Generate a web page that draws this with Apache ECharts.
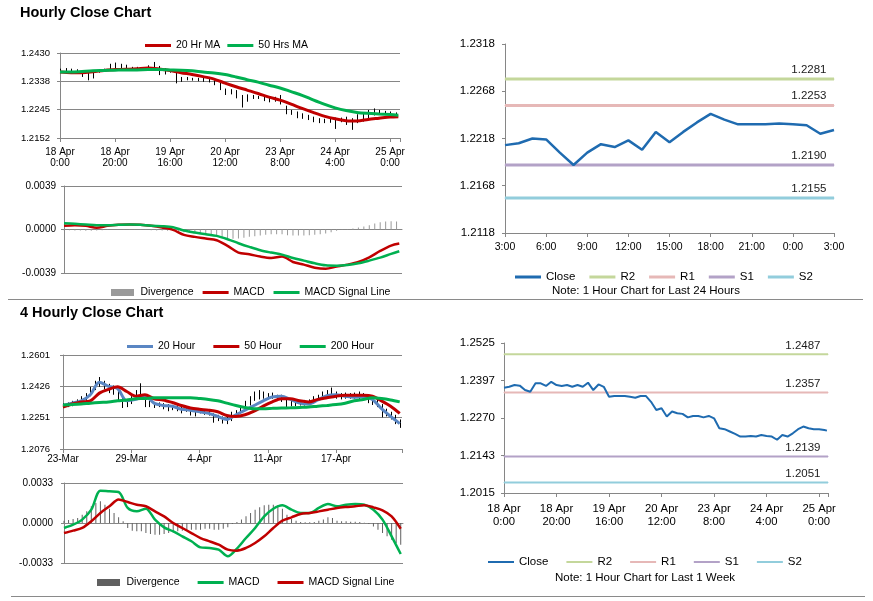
<!DOCTYPE html>
<html><head><meta charset="utf-8">
<script src="https://cdn.jsdelivr.net/npm/echarts@6/dist/echarts.min.js"></script>
<style>
html,body{margin:0;padding:0;background:#fff;width:873px;height:601px;overflow:hidden;}
.p{position:absolute;}
.sep{position:absolute;height:0;border-top:1px solid #8a8a8a;z-index:5;}
</style></head><body>
<div id="c1" class="p" style="left:0;top:0;width:430px;height:175px"></div>
<div id="c2" class="p" style="left:0;top:175px;width:430px;height:125px"></div>
<div id="c3" class="p" style="left:430px;top:0;width:443px;height:300px"></div>
<div id="c4" class="p" style="left:0;top:300px;width:430px;height:165px"></div>
<div id="c5" class="p" style="left:0;top:465px;width:430px;height:136px"></div>
<div id="c6" class="p" style="left:430px;top:300px;width:443px;height:301px"></div>
<div class="sep" style="left:8px;top:299px;width:855px"></div>
<div class="sep" style="left:11px;top:596px;width:854px"></div>
<script>
// ---------- Panel 1: Hourly close (last week) ----------
const hrTicks = ['18 Apr\n0:00','18 Apr\n20:00','19 Apr\n16:00','20 Apr\n12:00','23 Apr\n8:00','24 Apr\n4:00','25 Apr\n0:00'];
const barHours = [0,2,4,6,8,10,12,14,16,18,20,22,24,26,28,30,32,34,36,38,40,42,44,46,48,50,52,54,56,58,60,62,64,66,68,70,72,74,76,78,80,82,84,86,88,90,92,94,96,98,100,102,104,106,108,110,112,114,116,118,120,122];
const hrHigh = [1.2379,1.2381,1.2379,1.2377,1.2371,1.2366,1.2368,1.2377,1.2379,1.2395,
  1.2399,1.2395,1.2392,1.2385,1.2385,1.2381,1.2390,1.2401,1.2388,1.2381,
  1.2377,1.2368,1.2352,1.2352,1.2349,1.2349,1.2349,1.2352,1.2341,1.2336,
  1.2314,1.2312,1.2309,1.2293,1.2295,1.2293,1.2290,1.2287,1.2284,1.2287,
  1.2293,1.2258,1.2244,1.2239,1.2233,1.2228,1.2222,1.2217,1.2215,1.2217,
  1.2219,1.2219,1.2222,1.2217,1.2230,1.2233,1.2244,1.2249,1.2244,1.2241,
  1.2239,1.2236];
const hrLow = [1.2368,1.2371,1.2368,1.2366,1.2352,1.2341,1.2347,1.2366,1.2371,1.2377,
  1.2379,1.2381,1.2379,1.2374,1.2377,1.2373,1.2377,1.2379,1.2358,1.2360,
  1.2366,1.2331,1.2336,1.2341,1.2340,1.2338,1.2336,1.2334,1.2325,1.2309,
  1.2293,1.2295,1.2282,1.2252,1.2271,1.2280,1.2280,1.2273,1.2269,1.2271,
  1.2262,1.2230,1.2228,1.2217,1.2215,1.2211,1.2204,1.2201,1.2201,1.2202,
  1.2182,1.2204,1.2195,1.2179,1.2201,1.2206,1.2215,1.2226,1.2230,1.2230,
  1.2226,1.2222];
const maHours = [0,4,8,12,16,20,24,28,32,36,40,44,48,52,56,60,64,68,72,76,80,84,88,92,96,100,104,108,112,116,120,123];
const ma20h = [1.2368,1.2366,1.2366,1.2369,1.2373,1.2376,1.2377,1.2379,1.2381,1.2378,1.2373,1.2366,1.2360,1.2353,1.2345,1.2332,1.2320,1.2309,1.2298,1.2286,1.2276,1.2263,1.2249,1.2236,1.2224,1.2215,1.2209,1.2208,1.2213,1.2217,1.2221,1.2222];
const ma50h = [1.2368,1.2368,1.2370,1.2372,1.2373,1.2374,1.2375,1.2375,1.2376,1.2376,1.2375,1.2374,1.2372,1.2368,1.2365,1.2360,1.2352,1.2343,1.2335,1.2325,1.2316,1.2304,1.2292,1.2277,1.2263,1.2251,1.2242,1.2236,1.2233,1.2231,1.2229,1.2227];
// ---------- Panel 2: Hourly MACD ----------
const divH = [-0.00006,-0.00006,-0.00009,-0.00009,-0.00012,-0.00012,-0.00009,-0.00006,-0.00003,0,
  0,-0.00003,-0.00003,-0.00003,-0.00003,-0.00003,-0.00006,-0.00009,-0.00009,-0.00012,
  -0.00012,-0.00018,-0.00024,-0.0003,-0.00036,-0.00042,-0.00048,-0.00054,-0.00066,-0.00078,
  -0.00084,-0.00084,-0.00081,-0.00075,-0.00066,-0.0006,-0.00054,-0.00048,-0.00042,-0.00042,
  -0.00042,-0.00051,-0.00054,-0.00054,-0.00054,-0.00051,-0.00048,-0.00042,-0.00036,-0.00024,
  -0.00012,-0.00003,0.00003,0.00009,0.00018,0.00027,0.00039,0.00054,0.00066,0.00072,
  0.00075,0.00072];
const macdH = [0.00033,0.00039,0.00033,0.00015,0.00033,0.00042,0.00045,0.00042,0.00033,0.00018,-0.00003,-0.00048,-0.00066,-0.00081,-0.00096,-0.00147,-0.00207,-0.00222,-0.00243,-0.00255,-0.00243,-0.00291,-0.00315,-0.00342,-0.00351,-0.00333,-0.00315,-0.00291,-0.00249,-0.00192,-0.00144,-0.00126];
const sigH = [0.00057,0.00051,0.00045,0.00039,0.00039,0.00042,0.00045,0.00042,0.00033,0.0003,0.00021,-0.00009,-0.00027,-0.00042,-0.00057,-0.00087,-0.00123,-0.00156,-0.00186,-0.00207,-0.00225,-0.00255,-0.00279,-0.00303,-0.00321,-0.00324,-0.00318,-0.00303,-0.00279,-0.00252,-0.00219,-0.00195];
// ---------- Panel 3: last 24 hours ----------
const dayTicks = ['3:00','6:00','9:00','12:00','15:00','18:00','21:00','0:00','3:00'];
const dayHours = [0,1,2,3,4,5,6,7,8,9,10,11,12,13,14,15,16,17,18,19,20,21,22,23,24];
const dayClose = [1.2211,1.2213,1.2218,1.2217,1.2203,1.2190,1.2203,1.2212,1.2209,1.2216,1.2206,1.2225,1.2214,1.2225,1.2235,1.2244,1.2238,1.2233,1.2233,1.2233,1.2234,1.2233,1.2232,1.2223,1.2227];
const levelNames = ['R2','R1','S1','S2'];
const dayLevels = [1.2281,1.2253,1.2190,1.2155];
// ---------- Panel 4: 4-hourly close ----------
const h4Ticks = ['23-Mar','29-Mar','4-Apr','11-Apr','17-Apr'];
const bar4Idx = [0,2,4,6,8,10,12,14,16,18,20,22,24,26,28,30,32,34,36,38,40,42,44,46,48,50,52,54,56,58,60,62,64,66,68,70,72,74,76,78,80,82,84,86,88,90,92,94,96,98,100,102,104,106,108,110,112,114,116,118,120,122,124,126,128,130,132,134,136,138,140,142,144,146,148];
const h4High = [1.2332,1.2336,1.2345,1.2353,1.2371,1.2388,1.2423,1.2457,1.2478,1.2457,
  1.2440,1.2431,1.2414,1.2371,1.2353,1.2371,1.2405,1.2443,1.2371,1.2345,
  1.2339,1.2336,1.2332,1.2327,1.2322,1.2319,1.2313,1.2310,1.2301,1.2298,
  1.2298,1.2293,1.2287,1.2275,1.2267,1.2258,1.2258,1.2284,1.2293,1.2319,
  1.2345,1.2371,1.2397,1.2405,1.2397,1.2388,1.2391,1.2379,1.2379,1.2353,
  1.2345,1.2339,1.2345,1.2350,1.2353,1.2371,1.2379,1.2397,1.2405,1.2419,
  1.2397,1.2388,1.2391,1.2388,1.2391,1.2397,1.2388,1.2371,1.2362,1.2353,
  1.2327,1.2301,1.2284,1.2267,1.2241];
const h4Low = [1.2305,1.2310,1.2315,1.2322,1.2332,1.2345,1.2371,1.2405,1.2423,1.2409,
  1.2388,1.2379,1.2345,1.2305,1.2310,1.2327,1.2353,1.2371,1.2310,1.2310,
  1.2305,1.2310,1.2298,1.2287,1.2293,1.2287,1.2275,1.2284,1.2263,1.2258,
  1.2275,1.2267,1.2263,1.2223,1.2232,1.2218,1.2215,1.2232,1.2258,1.2275,
  1.2293,1.2319,1.2345,1.2353,1.2357,1.2353,1.2357,1.2345,1.2339,1.2310,
  1.2315,1.2315,1.2319,1.2319,1.2322,1.2336,1.2345,1.2353,1.2362,1.2371,
  1.2357,1.2353,1.2357,1.2357,1.2357,1.2353,1.2350,1.2332,1.2322,1.2310,
  1.2253,1.2258,1.2241,1.2215,1.2194];
const ma4Idx = [0,4,8,12,16,20,24,28,32,36,40,44,48,52,56,60,64,68,72,76,80,84,88,92,96,100,104,108,112,116,120,124,128,132,136,140,144,148];
const ma20_4 = [1.2319,1.2332,1.2345,1.2379,1.2449,1.2426,1.2414,1.2345,1.2353,1.2374,1.2332,1.2319,1.2315,1.2298,1.2293,1.2284,1.2275,1.2258,1.2241,1.2267,1.2293,1.2319,1.2345,1.2367,1.2371,1.2353,1.2332,1.2327,1.2350,1.2374,1.2379,1.2371,1.2365,1.2367,1.2353,1.2301,1.2258,1.2218];
const ma50_4 = [1.2310,1.2327,1.2339,1.2345,1.2388,1.2409,1.2423,1.2397,1.2371,1.2379,1.2357,1.2350,1.2336,1.2319,1.2305,1.2298,1.2293,1.2284,1.2263,1.2258,1.2267,1.2287,1.2315,1.2339,1.2357,1.2357,1.2345,1.2339,1.2353,1.2362,1.2371,1.2376,1.2376,1.2376,1.2371,1.2345,1.2315,1.2275];
const ma200_4 = [1.2322,1.2324,1.2327,1.2332,1.2336,1.2339,1.2345,1.2350,1.2357,1.2358,1.2362,1.2362,1.2362,1.2362,1.2362,1.2358,1.2353,1.2345,1.2332,1.2319,1.2308,1.2301,1.2301,1.2303,1.2305,1.2306,1.2308,1.2310,1.2315,1.2319,1.2324,1.2332,1.2345,1.2353,1.2362,1.2358,1.2350,1.2339];
// ---------- Panel 5: 4-hourly MACD ----------
const div4 = [0.00019,0.00025,0.00033,0.00041,0.00069,0.00096,0.00138,0.00165,0.00179,0.00151,
  0.00118,0.00083,0.00047,0.00014,-0.00041,-0.00063,-0.00069,-0.00069,-0.00083,-0.00091,
  -0.00096,-0.00096,-0.00091,-0.00083,-0.00074,-0.00069,-0.00063,-0.00055,-0.00055,-0.00055,
  -0.00055,-0.00047,-0.00047,-0.00055,-0.00055,-0.00047,-0.00036,-0.00008,0.00008,0.00028,
  0.00055,0.00083,0.0011,0.00129,0.00146,0.00151,0.00151,0.00146,0.00118,0.00069,
  0.00033,0.00019,0.00008,0.00006,0.00006,0.00008,0.00019,0.00028,0.00047,0.00041,
  0.00019,0.00014,0.00014,0.00011,0.00011,0.00008,0.00003,-0.00008,-0.00028,-0.00055,
  -0.00083,-0.0011,-0.00138,-0.00165,-0.00179];
const macd4 = [-0.00041,-0.00014,0.00028,0.0011,0.00267,0.00261,0.00256,0.00124,0.00096,0.00118,0.00028,-0.00036,-0.00069,-0.0011,-0.00151,-0.00201,-0.00206,-0.0022,-0.00275,-0.00212,-0.00124,-0.00041,0.00055,0.00118,0.00146,0.0011,0.00083,0.00083,0.00124,0.00157,0.00138,0.00151,0.00157,0.00151,0.0011,0.00028,-0.0011,-0.00256];
const sig4 = [-0.00083,-0.00063,-0.00041,0.00014,0.00083,0.00138,0.00193,0.00173,0.00151,0.00138,0.00096,0.00055,0,-0.00041,-0.00083,-0.00124,-0.00151,-0.00179,-0.0022,-0.00228,-0.00206,-0.00165,-0.0011,-0.00041,0.00019,0.00047,0.00074,0.00083,0.00096,0.0011,0.00124,0.00132,0.00138,0.00146,0.00129,0.00105,0.00055,-0.00047];
// ---------- Panel 6: last week ----------
const weekHours = [0,2,4,6,8,10,12,14,16,18,20,22,24,26,28,30,32,34,36,38,40,42,44,46,48,50,52,54,56,58,60,62,64,66,68,70,72,74,76,78,80,82,84,86,88,90,92,94,96,98,100,102,104,106,108,110,112,114,116,118,120,122,123];
const weekClose = [1.2373,1.2376,1.2382,1.2380,1.2365,1.2359,1.2388,1.2388,1.2379,1.2393,
  1.2382,1.2379,1.2382,1.2376,1.2382,1.2376,1.2390,1.2365,1.2384,1.2376,
  1.2342,1.2345,1.2345,1.2345,1.2342,1.2339,1.2345,1.2345,1.2325,1.2297,
  1.2303,1.2275,1.2292,1.2286,1.2284,1.2272,1.2277,1.2277,1.2272,1.2277,
  1.2269,1.2235,1.2232,1.2224,1.2216,1.2207,1.2207,1.2209,1.2207,1.2212,
  1.2209,1.2207,1.2196,1.2212,1.2207,1.2218,1.2232,1.2241,1.2235,1.2232,
  1.2232,1.2229,1.2227];
const weekLevels = [1.2487,1.2357,1.2139,1.2051];

// ---------- helpers ----------
const SANS = "'Liberation Sans',Arial,Helvetica,sans-serif";
const AX = '#868686';
const RED = '#c00000', GREEN = '#00b050', BLUE = '#5a86c3', CLOSE = '#1f6bb0';
const levelColors = ['#c4d79b','#e6b8b7','#b3a2c7','#92cddc'];
const lineIcon = 'path://M0,0L26,0L26,3L0,3Z';
const thinIcon = 'path://M0,0L26,0L26,2L0,2Z';
const barIcon = 'path://M0,0L23,0L23,7L0,7Z';
const pairs = (xs, ys) => xs.map((x, i) => [x, ys[i]]);
const hilo = (xs, lo, hi) => xs.map((x, i) => [x, lo[i], hi[i]]);
function hiloRender(params, api) {
  const x = api.value(0);
  const a = api.coord([x, api.value(1)]);
  const b = api.coord([x, api.value(2)]);
  const px = Math.round(a[0]) + 0.5;
  return {type: 'line', shape: {x1: px, y1: a[1], x2: px, y2: b[1]}, style: {stroke: '#000', lineWidth: 1}};
}
function hiloSeries(data) {
  return {type: 'custom', name: 'Price', renderItem: hiloRender, data, encode: {x: 0, y: [1, 2]}, z: 1, silent: true};
}
function lineSeries(name, data, color, width, smooth) {
  return {name, type: 'line', data, symbol: 'none', smooth: smooth || 0, color,
    lineStyle: {color, width}, z: 3, silent: true};
}
function barSeries(name, data, color) {
  return {name, type: 'bar', data, barWidth: 1, color, itemStyle: {color}, z: 2, silent: true};
}
// horizontal pivot level drawn from the axis start to the axis end, labelled at its right end
function levelSeries(name, value, xEnd, color, width, off, fs) {
  return {name, type: 'line', color, symbol: 'circle', symbolSize: 1, showSymbol: true,
    itemStyle: {color}, lineStyle: {color, width}, z: 2, silent: true,
    data: [[0, value], {value: [xEnd, value], label: {show: true, position: off, align: 'right',
      verticalAlign: 'bottom', formatter: () => value.toFixed(4), color: '#1a1a1a', fontFamily: SANS, fontSize: fs}}]};
}
function yAx(min, max, interval, fs, margin, split) {
  return {type: 'value', min, max, interval,
    axisLine: {show: true, lineStyle: {color: AX}},
    axisTick: {show: true, length: 3, lineStyle: {color: AX}},
    splitLine: {show: split, lineStyle: {color: AX, width: 1}},
    axisLabel: {margin, fontFamily: SANS, fontSize: fs, color: '#000', formatter: v => v.toFixed(4)}};
}
function xAx(max, interval, ticks, fs, margin, lh, showLabels) {
  return {type: 'value', min: 0, max, interval,
    axisLine: {show: true, onZero: true, lineStyle: {color: AX}},
    axisTick: {show: showLabels, length: 4, lineStyle: {color: AX}},
    splitLine: {show: false},
    axisLabel: {show: showLabels, margin, fontFamily: SANS, fontSize: fs, lineHeight: lh, color: '#000',
      showMaxLabel: true, showMinLabel: true,
      formatter: v => {
        const k = Math.round(v / interval);
        return (Math.abs(v / interval - k) < 1e-6 && ticks[k] !== undefined) ? ticks[k] : '';
      }}};
}
function legend(left, top, items, fs, gap, icon) {
  return {left, top, itemWidth: 26, itemHeight: 7, itemGap: gap, icon: icon || lineIcon,
    textStyle: {fontFamily: SANS, fontSize: fs, color: '#000'}, data: items, selectedMode: false};
}
function titleOf(text, left, top, fs, bold) {
  return {text, left, top, padding: 0, textStyle: {fontFamily: SANS, fontSize: fs, fontWeight: bold ? 'bold' : 'normal', color: '#000'}};
}
function make(id, option) {
  const c = echarts.init(document.getElementById(id), null, {renderer: 'canvas'});
  option.animation = false;
  c.setOption(option);
}

// ---------- Chart 1 ----------
make('c1', {
  title: titleOf('Hourly Close Chart', 20, 5, 14.5, true),
  legend: legend(140, 35, ['20 Hr MA', '50 Hrs MA'], 10.5, 7),
  grid: {left: 60, top: 53, width: 340, height: 85},
  xAxis: xAx(123.6, 20, hrTicks, 10, 8, 11.5, true),
  yAxis: yAx(1.21523, 1.24303, 0.0278 / 3, 9.5, 10, true),
  series: [
    hiloSeries(hilo(barHours, hrLow, hrHigh)),
    lineSeries('20 Hr MA', pairs(maHours, ma20h), RED, 3, 0.3),
    lineSeries('50 Hrs MA', pairs(maHours, ma50h), GREEN, 3, 0.3)
  ]
});
// ---------- Chart 2 ----------
make('c2', {
  legend: legend(106, 107, [{name: 'Divergence', icon: barIcon}, 'MACD', 'MACD Signal Line'], 10.5, 9),
  grid: {left: 64, top: 11, width: 338, height: 87},
  xAxis: xAx(124, 20, [], 10, 8, 11.5, false),
  yAxis: yAx(-0.0039, 0.0039, 0.0039, 10, 8, true),
  series: [
    barSeries('Divergence', pairs(barHours, divH), '#9a9a9a'),
    lineSeries('MACD', pairs(maHours, macdH), RED, 2.5, 0.3),
    lineSeries('MACD Signal Line', pairs(maHours, sigH), GREEN, 2.5, 0.3)
  ]
});
// ---------- Chart 3 ----------
make('c3', {
  title: titleOf('Note: 1 Hour Chart for Last 24 Hours', 122, 285, 11.5, false),
  legend: legend(80, 266, ['Close'].concat(levelNames), 11.5, 14),
  grid: {left: 75, top: 44, width: 329, height: 189},
  xAxis: xAx(24, 3, dayTicks, 10.5, 8, 13, true),
  yAxis: yAx(1.2118, 1.2318, 0.005, 11.5, 10, false),
  series: [lineSeries('Close', pairs(dayHours, dayClose), CLOSE, 2.5, 0)]
    .concat(levelNames.map((n, i) => levelSeries(n, dayLevels[i], 24, levelColors[i], 3, [-7, -3], 11.5)))
});
// ---------- Chart 4 ----------
make('c4', {
  title: titleOf('4 Hourly Close Chart', 20, 5, 14.5, true),
  legend: legend(122, 36, ['20 Hour', '50 Hour', '200 Hour'], 10.5, 18),
  grid: {left: 63, top: 55, width: 339, height: 102},
  xAxis: xAx(149, 30, h4Ticks, 10, 4, 12, true),
  yAxis: yAx(1.2076, 1.2601, 0.0175, 9.5, 13, true),
  series: [
    hiloSeries(hilo(bar4Idx, h4Low, h4High)),
    lineSeries('20 Hour', pairs(ma4Idx, ma20_4), BLUE, 3, 0.3),
    lineSeries('50 Hour', pairs(ma4Idx, ma50_4), RED, 3, 0.3),
    lineSeries('200 Hour', pairs(ma4Idx, ma200_4), GREEN, 3, 0.3)
  ]
});
// ---------- Chart 5 ----------
make('c5', {
  legend: legend(92, 107, [{name: 'Divergence', icon: barIcon}, 'MACD', 'MACD Signal Line'], 10.5, 18),
  grid: {left: 64, top: 18, width: 339, height: 80},
  xAxis: xAx(149, 30, [], 10, 8, 12, false),
  yAxis: yAx(-0.0033, 0.0033, 0.0033, 10, 11, true),
  series: [
    barSeries('Divergence', pairs(bar4Idx, div4), '#606060'),
    lineSeries('MACD', pairs(ma4Idx, macd4), GREEN, 2.5, 0.3),
    lineSeries('MACD Signal Line', pairs(ma4Idx, sig4), RED, 2.5, 0.3)
  ]
});
// ---------- Chart 6 ----------
make('c6', {
  title: titleOf('Note: 1 Hour Chart for Last 1 Week', 125, 272, 11.5, false),
  legend: legend(53, 251, ['Close'].concat(levelNames), 11.5, 18, thinIcon),
  grid: {left: 74, top: 43, width: 324, height: 150},
  xAxis: xAx(123.4, 20, hrTicks, 11.3, 10, 12.7, true),
  yAxis: yAx(1.201505, 1.252493, 0.012747, 11.5, 9, false),
  series: [lineSeries('Close', pairs(weekHours, weekClose), CLOSE, 2, 0)]
    .concat(levelNames.map((n, i) => levelSeries(n, weekLevels[i], 123.4, levelColors[i], 2, [-7, -2], 11.5)))
});
</script>
</body></html>
